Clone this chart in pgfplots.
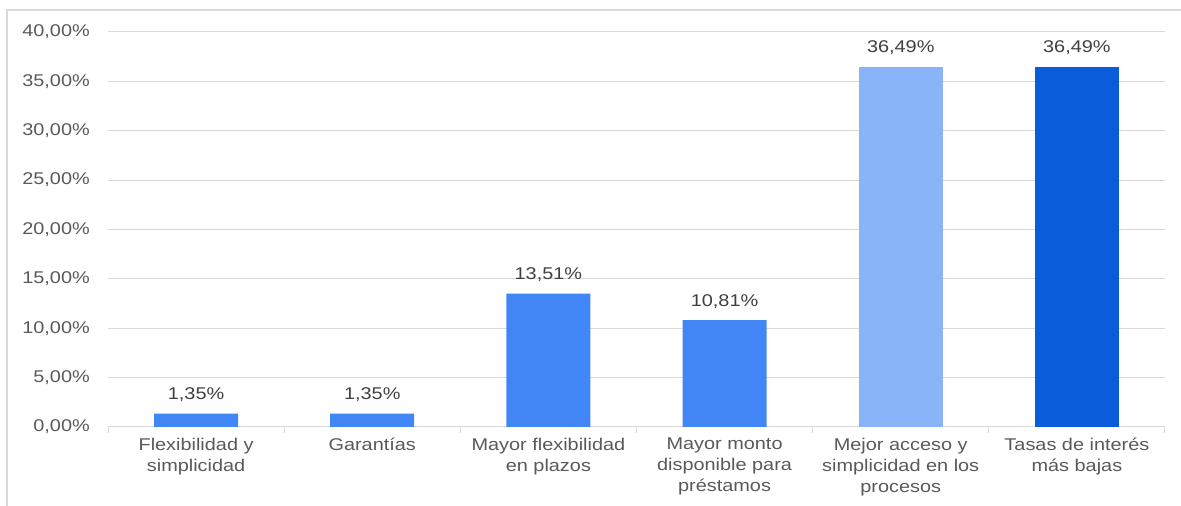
\documentclass[border=0pt]{standalone}
\usepackage{pgfplots}
\pgfplotsset{compat=1.18}
\usepackage{fontspec}
\setmainfont{Liberation Sans}[FakeStretch=1.17]
\definecolor{txt}{HTML}{595959}
\definecolor{lbl}{HTML}{404040}
\definecolor{gridc}{HTML}{D9D9D9}
\definecolor{cA}{HTML}{4285F4}
\definecolor{cB}{HTML}{8AB4F8}
\definecolor{cC}{HTML}{0B5CDB}
\begin{document}
\begin{tikzpicture}
\useasboundingbox (0,0) rectangle (1181pt,506pt);
\draw[gridc, line width=1.5pt] (7pt,-5pt) -- (7pt,496pt) -- (1190pt,496pt);
\begin{axis}[
  at={(108pt,79pt)}, anchor=south west,
  scale only axis, width=1057pt, height=395pt,
  xmin=-0.5, xmax=5.5, ymin=0, ymax=40,
  ybar, bar width=84pt, bar shift=0pt,
  axis x line*=bottom, axis y line*=left,
  x axis line style={gridc, line width=1pt, -},
  y axis line style={draw=none},
  tick align=outside,
  ytick={0,5,...,40},
  major tick length=0pt,
  ymajorgrids, grid style={gridc, line width=1pt},
  xtick={0,...,5},
  minor xtick={-0.5,0.5,...,5.5},
  minor tick length=6pt,
  tick style={gridc, line width=1pt},
  /pgf/number format/assume math mode=true,
  font=\fontsize{17}{21}\selectfont,
  yticklabel={\pgfmathprintnumber[fixed,fixed zerofill,precision=2,use comma]{\tick}\%},
  yticklabel style={text=txt, inner sep=0pt, anchor=east, xshift=-18pt},
  xticklabels={{Flexibilidad y\\simplicidad},{Garantías},{Mayor flexibilidad\\en plazos},{Mayor monto\\disponible para\\préstamos},{Mejor acceso y\\simplicidad en los\\procesos},{Tasas de interés\\más bajas}},
  xticklabel style={text=txt, align=center, inner sep=0pt, anchor=north, yshift=-11pt},
  nodes near coords={\pgfmathprintnumber[fixed,fixed zerofill,precision=2,use comma]{\pgfplotspointmeta}\%},
  nodes near coords style={text=lbl, inner sep=0pt, anchor=base, yshift=14pt},
  clip=false,
]
\addplot[fill=cA, draw=none] coordinates {(0,1.35) (1,1.35) (2,13.51) (3,10.81)};
\addplot[fill=cB, draw=none] coordinates {(4,36.49)};
\addplot[fill=cC, draw=none] coordinates {(5,36.49)};
\end{axis}
\end{tikzpicture}
\end{document}
